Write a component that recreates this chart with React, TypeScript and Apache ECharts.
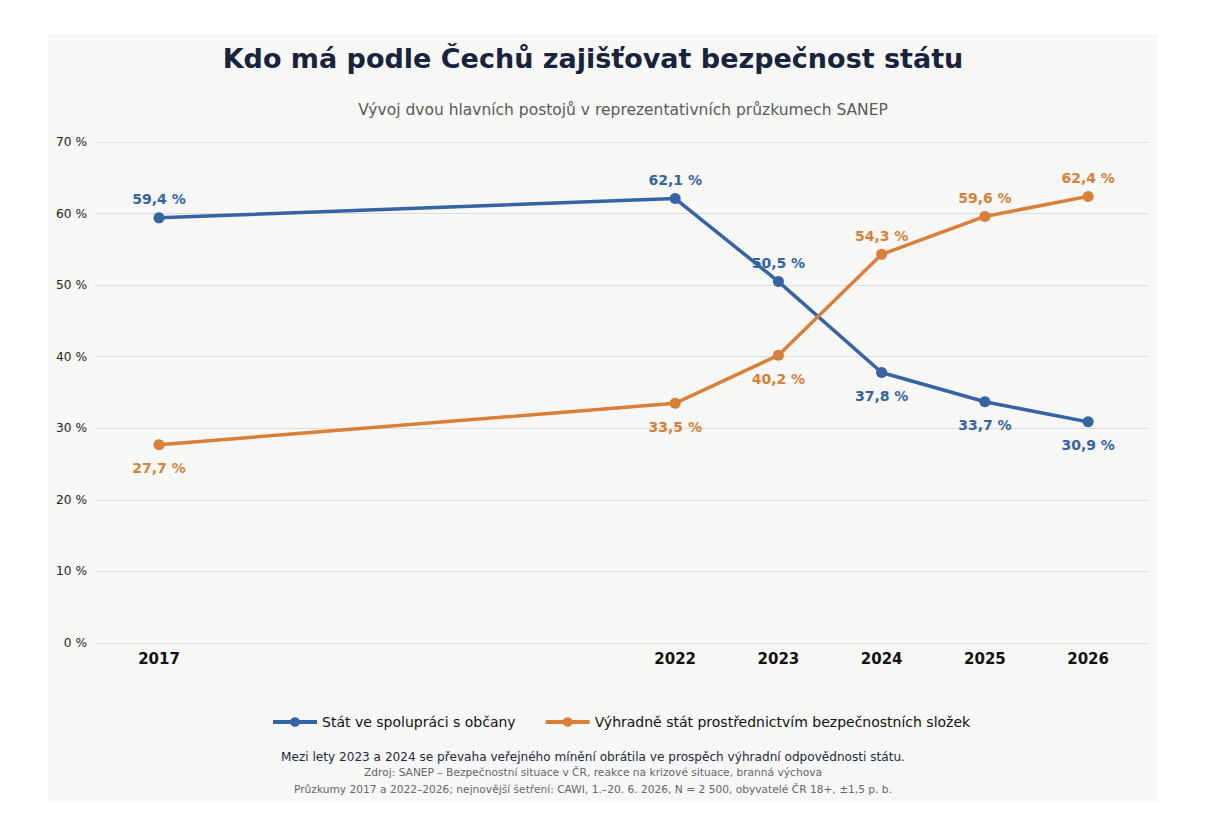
import React, { useEffect, useRef } from "react";
import * as echarts from "echarts";

const years = [2017, 2022, 2023, 2024, 2025, 2026];
const cooperation = [59.4, 62.1, 50.5, 37.8, 33.7, 30.9];
const stateOnly = [27.7, 33.5, 40.2, 54.3, 59.6, 62.4];
const cooperationLabelPos = ["top", "top", "top", "bottom", "bottom", "bottom"];
const stateOnlyLabelPos = ["bottom", "bottom", "bottom", "top", "top", "top"];
const seriesNames = ["Stát ve spolupráci s občany", "Výhradně stát prostřednictvím bezpečnostních složek"];

const BLUE = "#3464a6";
const ORANGE = "#d97f37";
const FONT = "DejaVu Sans";

const fmt = (v: number) => v.toFixed(1).replace(".", ",") + " %";

export default function App() {
  const ref = useRef<HTMLDivElement>(null);
  useEffect(() => {
    document.body.style.margin = "0";
    const chart = echarts.init(ref.current!, null, { renderer: "svg" });
    const mk = (vals: number[], pos: string[], color: string, name: string) => ({
      type: "line",
      name,
      data: vals.map((v, i) => ({
        value: [years[i], v],
        label: { position: pos[i], distance: pos[i] === "top" ? 6 : 11 },
      })),
      lineStyle: { color, width: 3.5 },
      itemStyle: { color },
      symbol: "circle",
      symbolSize: 11,
      label: {
        show: true,
        color,
        fontFamily: FONT,
        fontWeight: "bold",
        fontSize: 14,
        formatter: (p: any) => fmt(p.value[1]),
      },
    });
    chart.setOption({
      animation: false,
      backgroundColor: "#ffffff",
      textStyle: { fontFamily: FONT },
      graphic: [
        { type: "rect", z: -10, shape: { x: 48, y: 34, width: 1110, height: 768 }, style: { fill: "#f7f7f6" } },
        { type: "text", x: 593, y: 58, style: { text: "Kdo má podle Čechů zajišťovat bezpečnost státu", fill: "#18233d", font: `bold 27px "${FONT}"`, align: "center", verticalAlign: "middle" } },
        { type: "text", x: 623, y: 110, style: { text: "Vývoj dvou hlavních postojů v reprezentativních průzkumech SANEP", fill: "#5a5a5a", font: `15.5px "${FONT}"`, align: "center", verticalAlign: "middle" } },
        { type: "text", x: 593, y: 757, style: { text: "Mezi lety 2023 a 2024 se převaha veřejného mínění obrátila ve prospěch výhradní odpovědnosti státu.", fill: "#222a3a", font: `12.1px "${FONT}"`, align: "center", verticalAlign: "middle" } },
        { type: "text", x: 593, y: 772, style: { text: "Zdroj: SANEP – Bezpečnostní situace v ČR, reakce na krizové situace, branná výchova", fill: "#666666", font: `10.65px "${FONT}"`, align: "center", verticalAlign: "middle" } },
        { type: "text", x: 593, y: 789, style: { text: "Průzkumy 2017 a 2022–2026; nejnovější šetření: CAWI, 1.–20. 6. 2026, N = 2 500, obyvatelé ČR 18+, ±1,5 p. b.", fill: "#666666", font: `10.65px "${FONT}"`, align: "center", verticalAlign: "middle" } },
      ],
      legend: {
        data: seriesNames,
        left: 266,
        top: 710,
        itemGap: 28,
        itemWidth: 44,
        itemHeight: 12,
        lineStyle: { width: 4 },
        textStyle: { fontFamily: FONT, fontSize: 14, color: "#111" },
      },
      grid: { left: 95, right: 58, top: 142, bottom: 195 },
      xAxis: {
        type: "value",
        min: 2016.38,
        max: 2026.58,
        axisLine: { show: false },
        axisTick: { show: false },
        splitLine: { show: false },
        axisLabel: {
          customValues: years,
          formatter: (v: number) => String(v),
          fontFamily: FONT,
          fontWeight: "bold",
          fontSize: 15,
          color: "#111",
          margin: 8,
        },
      },
      yAxis: {
        type: "value",
        min: 0,
        max: 70,
        interval: 10,
        axisLine: { show: false },
        axisTick: { show: false },
        splitLine: { lineStyle: { color: "#dcdcdc", width: 1 } },
        axisLabel: {
          formatter: (v: number) => v + " %",
          fontFamily: FONT,
          fontSize: 12.2,
          color: "#222",
          margin: 8,
        },
      },
      series: [
        mk(cooperation, cooperationLabelPos, BLUE, seriesNames[0]),
        mk(stateOnly, stateOnlyLabelPos, ORANGE, seriesNames[1]),
      ],
    });
    return () => chart.dispose();
  }, []);
  return <div ref={ref} style={{ width: 1206, height: 838 }} />;
}
